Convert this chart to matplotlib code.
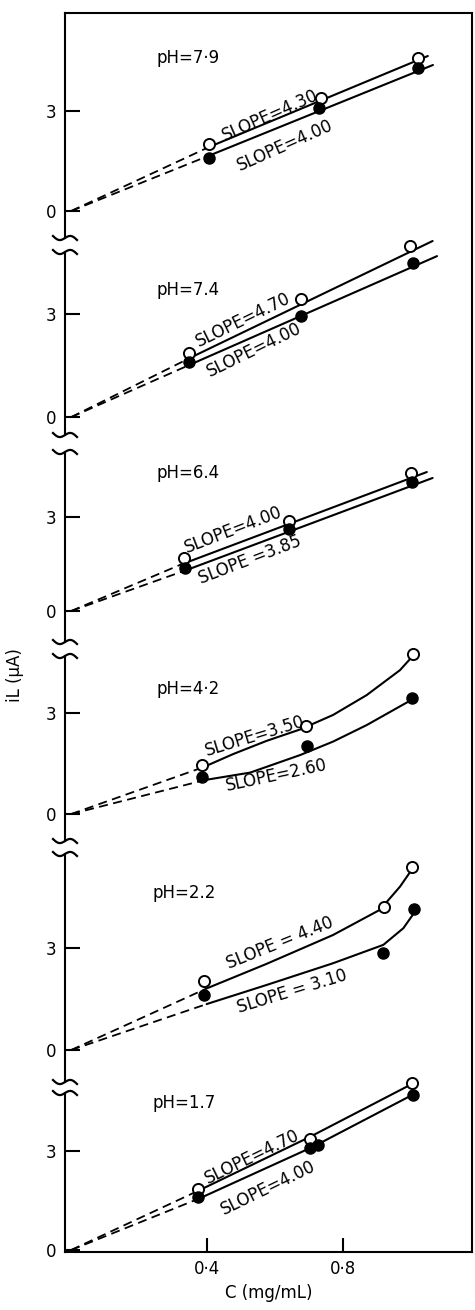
import numpy as np
import matplotlib
matplotlib.use('Agg')
import matplotlib.pyplot as plt
from matplotlib.lines import Line2D

# panel labels, top to bottom
ph_labels = ['pH=7·9', 'pH=7.4', 'pH=6.4', 'pH=4·2', 'pH=2.2', 'pH=1.7']

# open circles (upper series)
open_c = [[0.406, 0.735, 1.02], [0.347, 0.676, 0.997], [0.333, 0.641, 1.0],
          [0.385, 0.691, 1.006], [0.392, 0.921, 1.002], [0.373, 0.703, 1.002]]
open_i = [[2.0, 3.39, 4.6], [1.87, 3.44, 4.99], [1.69, 2.88, 4.41],
          [1.45, 2.61, 4.75], [2.04, 4.2, 5.39], [1.84, 3.38, 5.07]]

# filled circles (lower series)
filled_c = [[0.406, 0.73, 1.02], [0.347, 0.676, 1.006], [0.335, 0.641, 1.003],
            [0.385, 0.694, 1.003], [0.392, 0.919, 1.009], [0.373, 0.703, 0.727, 1.005]]
filled_i = [[1.59, 3.09, 4.29], [1.60, 2.94, 4.49], [1.37, 2.62, 4.12],
            [1.10, 2.02, 3.44], [1.62, 2.84, 4.14], [1.60, 3.08, 3.18, 4.70]]

# drawn lines / curves through the points
open_fit_c = [[0.406, 1.05], [0.355, 1.064], [0.32, 1.047],
              [0.389, 0.477, 0.575, 0.674, 0.771, 0.870, 0.968, 1.002],
              [0.399, 0.575, 0.771, 0.909, 0.968, 1.002],
              [0.379, 0.703, 0.997]]
open_fit_i = [[1.92, 4.65], [1.75, 5.13], [1.47, 4.44],
              [1.39, 1.78, 2.17, 2.51, 2.94, 3.53, 4.27, 4.65],
              [1.81, 2.53, 3.38, 4.12, 4.80, 5.29],
              [1.82, 3.43, 5.0]]
filled_fit_c = [[0.418, 1.065], [0.355, 1.077], [0.34, 1.064],
                [0.394, 0.527, 0.674, 0.771, 0.870, 0.997],
                [0.399, 0.575, 0.771, 0.919, 0.978, 1.009],
                [0.379, 0.712, 1.004]]
filled_fit_i = [[1.71, 4.38], [1.55, 4.69], [1.31, 4.25],
                [1.01, 1.23, 1.75, 2.15, 2.64, 3.36],
                [1.35, 1.91, 2.55, 3.09, 3.58, 4.02],
                [1.57, 3.13, 4.70]]

open_slope = ['SLOPE=4.30', 'SLOPE=4.70', 'SLOPE=4.00', 'SLOPE=3.50', 'SLOPE = 4.40', 'SLOPE=4.70']
filled_slope = ['SLOPE=4.00', 'SLOPE=4.00', 'SLOPE =3.85', 'SLOPE=2.60', 'SLOPE = 3.10', 'SLOPE=4.00']

# label placement (data coords) and rotation
ph_pos = [(0.25, 4.6), (0.25, 3.7), (0.25, 4.4), (0.25, 3.7), (0.24, 4.6), (0.24, 4.45)]
open_lbl = [(0.585, 2.88, 24), (0.507, 2.83, 26), (0.477, 2.59, 21),
            (0.541, 2.32, 17), (0.615, 3.15, 22), (0.532, 2.82, 26)]
filled_lbl = [(0.63, 1.98, 24), (0.54, 1.95, 26), (0.527, 1.63, 21),
              (0.605, 1.16, 12), (0.65, 1.71, 17), (0.58, 1.88, 26)]

# panel boxes in pixels (top, bottom) and y limits
W, H = 475, 1310
left_px, right_px = 65, 472
boxes = [(13, 238), (252, 435), (452, 642), (656, 841), (854, 1082), (1093, 1252)]
ylims = [(-0.81, 5.94), (-0.52, 4.81), (-0.99, 5.08), (-0.80, 4.69), (-0.94, 5.76), (-0.06, 4.76)]
xlim = (-0.018, 1.18)

plt.rcParams['font.family'] = 'DejaVu Sans'
fig = plt.figure(figsize=(W / 100, H / 100), dpi=100)

lw = 1.5
axes = []
for k in range(6):
    top, bot = boxes[k]
    ax = fig.add_axes([left_px / W, 1 - bot / H, (right_px - left_px) / W, (bot - top) / H])
    ax.set_xlim(*xlim)
    ax.set_ylim(*ylims[k])
    for s in ['top', 'bottom', 'right']:
        ax.spines[s].set_visible(False)
    ax.spines['left'].set_linewidth(lw)
    ax.set_yticks([0, 3])
    ax.set_yticklabels(['0', '3'])
    ax.tick_params(axis='y', direction='in', length=11, width=lw, labelsize=12, pad=6)
    if k == 0:
        ax.spines['top'].set_visible(True)
        ax.spines['top'].set_linewidth(lw)
    if k == 5:
        ax.spines['bottom'].set_visible(True)
        ax.spines['bottom'].set_linewidth(lw)
        ax.set_xticks([0.4, 0.8])
        ax.set_xticklabels(['0·4', '0·8'])
        ax.tick_params(axis='x', direction='in', length=10, width=lw, labelsize=12, pad=6)
        ax.set_xlabel('C (mg/mL)', fontsize=12, labelpad=4)
    else:
        ax.set_xticks([])

    # dashed extrapolation to the origin, then the solid line through the data
    for fc, fi in [(open_fit_c[k], open_fit_i[k]), (filled_fit_c[k], filled_fit_i[k])]:
        ax.plot([0, fc[0]], [0, fi[0]], color='black', lw=1.3, ls=(0, (5, 3)), clip_on=False)
        ax.plot(fc, fi, color='black', lw=1.5, solid_capstyle='round', clip_on=False)

    ax.plot(open_c[k], open_i[k], 'o', ms=8, mfc='white', mec='black', mew=1.4,
            zorder=3, clip_on=False)
    ax.plot(filled_c[k], filled_i[k], 'o', ms=8, mfc='black', mec='black',
            zorder=3, clip_on=False)

    ax.text(ph_pos[k][0], ph_pos[k][1], ph_labels[k], fontsize=12, ha='left', va='center')
    x, y, r = open_lbl[k]
    ax.text(x, y, open_slope[k], fontsize=12, rotation=r, ha='center', va='center',
            rotation_mode='anchor')
    x, y, r = filled_lbl[k]
    ax.text(x, y, filled_slope[k], fontsize=12, rotation=r, ha='center', va='center',
            rotation_mode='anchor')
    axes.append(ax)

# break marks on the left axis
def wave(ypx):
    t = np.linspace(-1, 1, 30)
    xs = left_px + 12 * t
    ys = ypx - 3 * np.sin(np.pi * t) + 2 * t
    fig.add_artist(Line2D(xs / W, 1 - ys / H, color='black', lw=1.6,
                          transform=fig.transFigure))

for k in range(5):
    wave(boxes[k][1])
    wave(boxes[k + 1][0])

# right border
fig.add_artist(Line2D([right_px / W, right_px / W], [1 - 13 / H, 1 - 1252 / H],
                      color='black', lw=lw, transform=fig.transFigure))

fig.text(15 / W, 1 - 675 / H, 'iL (μA)', rotation=90, fontsize=12, ha='center', va='center')

fig.savefig('out.png', dpi=100)
